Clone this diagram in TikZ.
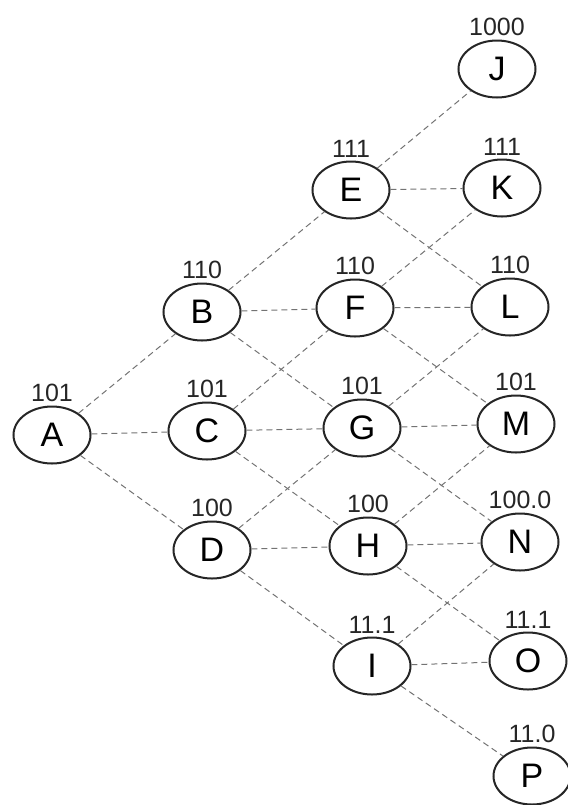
\documentclass[tikz,border=0pt]{standalone}
\usepackage{fontspec}
\setmainfont{Liberation Sans}
\usepackage{tikz}
\usetikzlibrary{shapes.geometric, positioning}
\tikzset{
  state/.style={
    ellipse,
    draw=black!85,
    line width=1pt,
    minimum width=38.5pt,
    minimum height=28.5pt,
    inner sep=0pt,
    font=\fontsize{17}{17}\selectfont
  },
  value/.style={
    font=\fontsize{12.5}{12.5}\selectfont,
    text=black!85,
    inner sep=1.5pt
  },
  branch/.style={
    draw=black!55,
    line width=0.5pt,
    densely dashed
  }
}

\begin{document}
\begin{tikzpicture}[x=0.5pt, y=-0.5pt]

  \useasboundingbox (0,0) rectangle (568,805);

  % STAGE 0
  \node (A) [state, label={[value]above:101}] at (52,435) {A};

  % STAGE 1
  \node (B) [state, label={[value]above:110}] at (202,312) {B};
  \node (C) [state, label={[value]above:101}] at (207,431) {C};
  \node (D) [state, label={[value]above:100}] at (212,550) {D};

  % STAGE 2
  \node (E) [state, label={[value]above:111}] at (351,190) {E};
  \node (F) [state, label={[value]above:110}] at (355,308) {F};
  \node (G) [state, label={[value]above:101}] at (362,428) {G};
  \node (H) [state, label={[value]above:100}] at (368,546) {H};
  \node (I) [state, label={[value]above:11.1}] at (372,666) {I};

  % STAGE 3
  \node (J) [state, label={[value]above:1000}] at (497,69) {J};
  \node (K) [state, label={[value]above:111}] at (502,188) {K};
  \node (L) [state, label={[value]above:110}] at (510,307) {L};
  \node (M) [state, label={[value]above:101}] at (516,424) {M};
  \node (N) [state, label={[value]above:100.0}] at (520,542) {N};
  \node (O) [state, label={[value]above:11.1}] at (528,661) {O};
  \node (P) [state, label={[value]above:11.0}] at (532,776) {P};

  % BRANCHES
  \draw[branch] (A) -- (B);
  \draw[branch] (A) -- (C);
  \draw[branch] (A) -- (D);

  \draw[branch] (B) -- (E);
  \draw[branch] (B) -- (F);
  \draw[branch] (B) -- (G);
  \draw[branch] (C) -- (F);
  \draw[branch] (C) -- (G);
  \draw[branch] (C) -- (H);
  \draw[branch] (D) -- (G);
  \draw[branch] (D) -- (H);
  \draw[branch] (D) -- (I);

  \draw[branch] (E) -- (J);
  \draw[branch] (E) -- (K);
  \draw[branch] (E) -- (L);
  \draw[branch] (F) -- (K);
  \draw[branch] (F) -- (L);
  \draw[branch] (F) -- (M);
  \draw[branch] (G) -- (L);
  \draw[branch] (G) -- (M);
  \draw[branch] (G) -- (N);
  \draw[branch] (H) -- (M);
  \draw[branch] (H) -- (N);
  \draw[branch] (H) -- (O);
  \draw[branch] (I) -- (N);
  \draw[branch] (I) -- (O);
  \draw[branch] (I) -- (P);

\end{tikzpicture}
\end{document}
